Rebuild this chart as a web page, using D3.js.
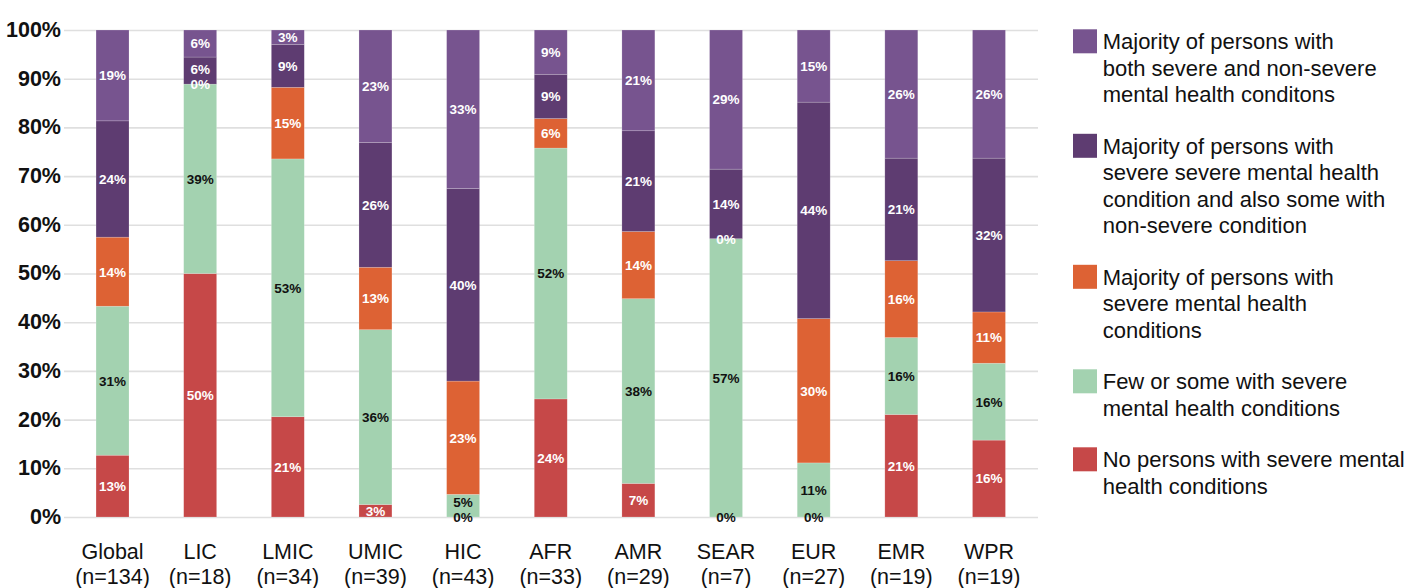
<!DOCTYPE html>
<html>
<head>
<meta charset="utf-8">
<script src="https://cdn.jsdelivr.net/npm/d3@7"></script>
<style>
  html, body { margin: 0; padding: 0; background: #fff; }
  svg { display: block; font-family: "Liberation Sans", Arial, sans-serif; }
</style>
</head>
<body>
<svg id="chart" width="1408" height="588"></svg>
<script>
// Categories (income groups and WHO regions) and number of countries in each
const categories = ["Global", "LIC", "LMIC", "UMIC", "HIC", "AFR", "AMR", "SEAR", "EUR", "EMR", "WPR"];
const sampleSizes = [134, 18, 34, 39, 43, 33, 29, 7, 27, 19, 19];

// Number of countries per response, stacked bottom to top
const noPersons            = [17, 9, 7, 1, 0, 8, 2, 0, 0, 4, 3];
const fewOrSome            = [41, 7, 18, 14, 2, 17, 11, 4, 3, 3, 3];
const majoritySevere       = [19, 0, 5, 5, 10, 2, 4, 0, 8, 3, 2];
const majoritySevereSome   = [32, 1, 3, 10, 17, 3, 6, 1, 12, 4, 6];
const majorityBoth         = [25, 1, 1, 9, 14, 3, 6, 2, 4, 5, 5];

const seriesNames = [
  "No persons with severe mental health conditions",
  "Few or some with severe mental health conditions",
  "Majority of persons with severe mental health conditions",
  "Majority of persons with severe severe mental health condition and also some with non-severe condition",
  "Majority of persons with both severe and non-severe mental health conditons"
];
const seriesCounts = [noPersons, fewOrSome, majoritySevere, majoritySevereSome, majorityBoth];
const seriesColors = ["#c64848", "#a3d2b0", "#dd6234", "#5e3c71", "#77548f"];
const labelColors  = ["#ffffff", "#111111", "#ffffff", "#ffffff", "#ffffff"];

// Legend entries, top to bottom, with their line breaks
const legendLines = [
  ["Majority of persons with", "both severe and non-severe", "mental health conditons"],
  ["Majority of persons with", "severe severe mental health", "condition and also some with", "non-severe condition"],
  ["Majority of persons with", "severe mental health", "conditions"],
  ["Few or some with severe", "mental health conditions"],
  ["No persons with severe mental", "health conditions"]
];
const legendSeries = [4, 3, 2, 1, 0];

const yTickValues = [0, 0.1, 0.2, 0.3, 0.4, 0.5, 0.6, 0.7, 0.8, 0.9, 1.0];

const svg = d3.select("#chart");

const plotLeft = 64, plotRight = 1038, plotTop = 30, plotBottom = 517;

const x = d3.scaleBand()
  .domain(categories)
  .range([68.7, 1032.8])
  .paddingInner(0.624)
  .paddingOuter(0.312);

const y = d3.scaleLinear().domain([0, 1]).range([plotBottom, plotTop]);

// Rows of shares per category
const keys = seriesNames.map((d, i) => "s" + i);
const rows = categories.map((c, j) => {
  const row = { category: c, n: sampleSizes[j] };
  seriesCounts.forEach((arr, i) => { row["s" + i] = arr[j] / sampleSizes[j]; });
  return row;
});
const stacked = d3.stack().keys(keys)(rows);

// Y axis with gridlines
const yAxis = d3.axisLeft(y)
  .tickValues(yTickValues)
  .tickFormat(d3.format(".0%"))
  .tickSize(-(plotRight - plotLeft))
  .tickPadding(3);

const gy = svg.append("g")
  .attr("transform", `translate(${plotLeft},0)`)
  .call(yAxis);
gy.select(".domain").remove();
gy.selectAll(".tick line").attr("stroke", "#dfdfdf").attr("stroke-width", 1.6);
gy.selectAll(".tick text")
  .attr("fill", "#111")
  .attr("font-size", 21.5)
  .attr("font-weight", "bold")
  .attr("font-family", "'Liberation Sans', Arial, sans-serif")
  .attr("dy", "0.3em");

// Stacked bars
const layers = svg.append("g").selectAll("g.layer")
  .data(stacked)
  .join("g")
  .attr("class", "layer")
  .attr("fill", (d, i) => seriesColors[i]);

layers.selectAll("rect")
  .data(d => d)
  .join("rect")
  .attr("x", d => x(d.data.category))
  .attr("width", x.bandwidth())
  .attr("y", d => y(d[1]))
  .attr("height", d => y(d[0]) - y(d[1]))
  .attr("stroke", "rgba(255,255,255,0.3)")
  .attr("stroke-width", 0.6);

// Value labels centred on each segment; labels that would collide
// inside a bar are nudged upwards so each stays readable
const labels = svg.append("g");
const minGap = 14.5;
categories.forEach((c, j) => {
  let prevY = Infinity;
  stacked.forEach((layer, i) => {
    const d = layer[j];
    const v = d[1] - d[0];
    const isZeroBase = i === 0 && v === 0;
    const yPos = Math.min(y((d[0] + d[1]) / 2), prevY - minGap);
    prevY = yPos;
    labels.append("text")
      .attr("x", x(c) + x.bandwidth() / 2)
      .attr("y", yPos)
      .attr("dy", "0.36em")
      .attr("text-anchor", "middle")
      .attr("font-size", 13.5)
      .attr("font-weight", "bold")
      .attr("fill", isZeroBase ? "#111111" : labelColors[i])
      .text(Math.round(v * 100) + "%");
  });
});

// Category labels with sample sizes
const gx = svg.append("g");
categories.forEach((c, j) => {
  const t = gx.append("text")
    .attr("x", x(c) + x.bandwidth() / 2)
    .attr("y", 559)
    .attr("text-anchor", "middle")
    .attr("font-size", 21.5)
    .attr("fill", "#111");
  t.append("tspan").attr("x", x(c) + x.bandwidth() / 2).text(c);
  t.append("tspan").attr("x", x(c) + x.bandwidth() / 2).attr("dy", 25).text(`(n=${sampleSizes[j]})`);
});

// Legend
const legend = svg.append("g");
let baseline = 49.3;
const lineH = 26.5;
legendLines.forEach((lines, k) => {
  const s = legendSeries[k];
  legend.append("rect")
    .attr("x", 1073)
    .attr("y", baseline - 20)
    .attr("width", 24)
    .attr("height", 24)
    .attr("fill", seriesColors[s]);
  const t = legend.append("text")
    .attr("x", 1102.7)
    .attr("y", baseline)
    .attr("font-size", 22)
    .attr("fill", "#111");
  lines.forEach((ln, li) => {
    t.append("tspan").attr("x", 1102.7).attr("dy", li === 0 ? 0 : lineH).text(ln);
  });
  baseline += lineH * (lines.length - 1) + 51.5;
});
</script>
</body>
</html>
